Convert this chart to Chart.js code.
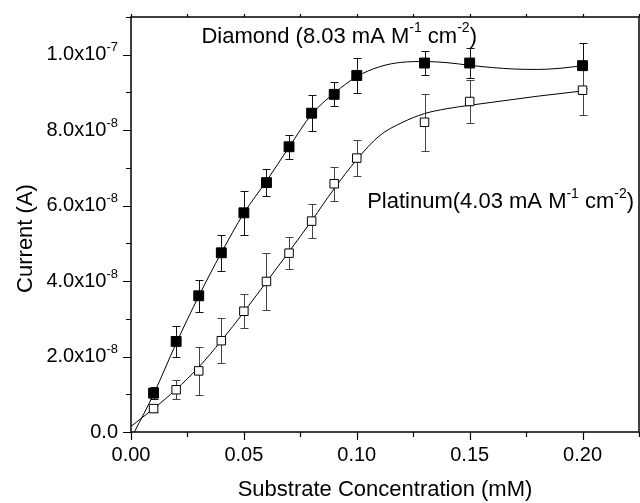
<!DOCTYPE html>
<html>
<head>
<meta charset="utf-8">
<script src="https://cdn.jsdelivr.net/npm/chart.js@4.4.1/dist/chart.umd.min.js"></script>
<style>
  html, body { margin: 0; padding: 0; background: #fff; overflow: hidden; }
  #wrap { width: 640px; height: 503px; }
</style>
</head>
<body>
<div id="wrap"><canvas id="c"></canvas></div>
<script>
// Measured amperometric response (A) vs substrate concentration (mM)
const concentration   = [0.01, 0.02, 0.03, 0.04, 0.05, 0.06, 0.07, 0.08, 0.09, 0.10, 0.13, 0.15, 0.20];
const diamondCurrent  = [1.03e-8, 2.40e-8, 3.61e-8, 4.75e-8, 5.81e-8, 6.61e-8, 7.56e-8, 8.45e-8, 8.95e-8, 9.45e-8, 9.78e-8, 9.78e-8, 9.71e-8];
const diamondError    = [0.15e-8, 0.40e-8, 0.43e-8, 0.48e-8, 0.58e-8, 0.35e-8, 0.32e-8, 0.47e-8, 0.32e-8, 0.47e-8, 0.33e-8, 0.40e-8, 0.60e-8];
const platinumCurrent = [0.62e-8, 1.12e-8, 1.62e-8, 2.42e-8, 3.20e-8, 3.99e-8, 4.74e-8, 5.59e-8, 6.58e-8, 7.26e-8, 8.21e-8, 8.76e-8, 9.06e-8];
const platinumError   = [0.10e-8, 0.25e-8, 0.63e-8, 0.60e-8, 0.45e-8, 0.75e-8, 0.43e-8, 0.46e-8, 0.45e-8, 0.47e-8, 0.76e-8, 0.58e-8, 0.66e-8];

// Smoothed fit curves
const diamondFitX  = [0.0015, 0.01, 0.02, 0.03, 0.04, 0.05, 0.06, 0.07, 0.08, 0.09, 0.10, 0.11, 0.12, 0.13, 0.14, 0.15, 0.16, 0.17, 0.18, 0.19, 0.20];
const diamondFitY  = [0, 1.0e-8, 2.35e-8, 3.6e-8, 4.75e-8, 5.8e-8, 6.65e-8, 7.55e-8, 8.42e-8, 8.98e-8, 9.42e-8, 9.68e-8, 9.8e-8, 9.82e-8, 9.79e-8, 9.72e-8, 9.66e-8, 9.62e-8, 9.61e-8, 9.64e-8, 9.71e-8];
const platinumFitX = [0, 0.01, 0.02, 0.03, 0.04, 0.05, 0.06, 0.07, 0.08, 0.09, 0.10, 0.11, 0.12, 0.13, 0.14, 0.15, 0.16, 0.17, 0.18, 0.19, 0.20];
const platinumFitY = [0.15e-8, 0.62e-8, 1.13e-8, 1.72e-8, 2.42e-8, 3.18e-8, 3.98e-8, 4.78e-8, 5.6e-8, 6.45e-8, 7.22e-8, 7.85e-8, 8.2e-8, 8.44e-8, 8.57e-8, 8.66e-8, 8.74e-8, 8.82e-8, 8.9e-8, 8.97e-8, 9.04e-8];

// Axis labelling
const xTickValues = [0, 0.05, 0.10, 0.15, 0.20];
const xTickLabels = ['0.00', '0.05', '0.10', '0.15', '0.20'];
const yTickValues = [0, 2e-8, 4e-8, 6e-8, 8e-8, 1e-7];
const yTickBase   = ['0.0', '2.0x10', '4.0x10', '6.0x10', '8.0x10', '1.0x10'];
const yTickExp    = ['', '-8', '-8', '-8', '-8', '-7'];

const FONT = '"Liberation Sans", Arial, Helvetica, sans-serif';

const toPoints = (xs, ys) => xs.map((x, i) => ({ x: x, y: ys[i] }));

// Text runs where some pieces are raised exponents
function richWidth(ctx, parts, size, supSize) {
  let w = 0;
  parts.forEach(p => {
    ctx.font = (p.sup ? supSize : size) + 'px ' + FONT;
    w += ctx.measureText(p.t).width;
  });
  return w;
}
function drawRich(ctx, parts, x, y, size, supSize, rise) {
  ctx.textBaseline = 'middle';
  ctx.textAlign = 'left';
  let cx = x;
  parts.forEach(p => {
    ctx.font = (p.sup ? supSize : size) + 'px ' + FONT;
    ctx.fillText(p.t, cx, p.sup ? y - rise : y);
    cx += ctx.measureText(p.t).width;
  });
}

const errorBars = {
  id: 'errorBars',
  beforeDatasetsDraw(chart) {
    const { ctx, scales: { x, y } } = chart;
    const series = [
      { ys: diamondCurrent, es: diamondError, color: '#111' },
      { ys: platinumCurrent, es: platinumError, color: '#444' }
    ];
    ctx.save();
    ctx.lineWidth = 1;
    series.forEach(s => {
      ctx.strokeStyle = s.color;
      concentration.forEach((c, i) => {
        const px = Math.round(x.getPixelForValue(c)) + 0.5;
        const top = Math.round(y.getPixelForValue(s.ys[i] + s.es[i])) + 0.5;
        const bot = Math.round(y.getPixelForValue(s.ys[i] - s.es[i])) + 0.5;
        ctx.beginPath();
        ctx.moveTo(px, top); ctx.lineTo(px, bot);
        ctx.moveTo(px - 4, top); ctx.lineTo(px + 4, top);
        ctx.moveTo(px - 4, bot); ctx.lineTo(px + 4, bot);
        ctx.stroke();
      });
    });
    ctx.restore();
  }
};

const frameAndLabels = {
  id: 'frameAndLabels',
  afterDraw(chart) {
    const { ctx, chartArea: a, scales: { x, y } } = chart;
    ctx.save();
    ctx.strokeStyle = '#000';
    ctx.fillStyle = '#000';

    // frame
    ctx.lineWidth = 1.5;
    ctx.strokeRect(a.left, a.top, a.right - a.left, a.bottom - a.top);

    // tick marks
    ctx.lineWidth = 1.2;
    ctx.beginPath();
    x.ticks.forEach(t => {
      const px = Math.round(x.getPixelForValue(t.value)) + 0.5;
      const major = xTickValues.some(m => Math.abs(m - t.value) < 1e-6);
      ctx.moveTo(px, a.bottom); ctx.lineTo(px, a.bottom + (major ? 8 : 5));
      ctx.moveTo(px, a.top); ctx.lineTo(px, a.top - 3);
    });
    y.ticks.forEach(t => {
      const py = Math.round(y.getPixelForValue(t.value)) + 0.5;
      const major = yTickValues.some(m => Math.abs(m - t.value) < 1e-12);
      ctx.moveTo(a.left, py); ctx.lineTo(a.left - (major ? 8 : 5), py);
    });
    ctx.stroke();

    // x tick labels
    ctx.font = '20px ' + FONT;
    ctx.textAlign = 'center';
    ctx.textBaseline = 'middle';
    xTickValues.forEach((v, i) => {
      ctx.fillText(xTickLabels[i], x.getPixelForValue(v), a.bottom + 23);
    });

    // y tick labels with exponent
    yTickValues.forEach((v, i) => {
      const parts = [{ t: yTickBase[i] }];
      if (yTickExp[i]) parts.push({ t: yTickExp[i], sup: true });
      const w = richWidth(ctx, parts, 20, 13);
      drawRich(ctx, parts, a.left - 13 - w, y.getPixelForValue(v), 20, 13, 7);
    });

    // axis titles
    ctx.font = '22px ' + FONT;
    ctx.textAlign = 'center';
    ctx.textBaseline = 'middle';
    ctx.fillText('Substrate Concentration (mM)', (a.left + a.right) / 2, a.bottom + 58);
    ctx.save();
    ctx.translate(26, (a.top + a.bottom) / 2 + 14);
    ctx.rotate(-Math.PI / 2);
    ctx.fillText('Current (A)', 0, 0);
    ctx.restore();

    // series annotations
    drawRich(ctx, [
      { t: 'Diamond (8.03 mA M' }, { t: '-1', sup: true },
      { t: ' cm' }, { t: '-2', sup: true }, { t: ')' }
    ], x.getPixelForValue(0.0312), y.getPixelForValue(10.48e-8), 22, 14, 8);
    drawRich(ctx, [
      { t: 'Platinum(4.03 mA M' }, { t: '-1', sup: true },
      { t: ' cm' }, { t: '-2', sup: true }, { t: ')' }
    ], x.getPixelForValue(0.1046), y.getPixelForValue(6.09e-8), 22, 14, 8);

    ctx.restore();
  }
};

new Chart(document.getElementById('c'), {
  type: 'scatter',
  data: {
    datasets: [
      {
        label: 'Diamond fit',
        data: toPoints(diamondFitX, diamondFitY),
        showLine: true, borderColor: '#000', borderWidth: 1,
        pointRadius: 0, cubicInterpolationMode: 'monotone', order: 3
      },
      {
        label: 'Platinum fit',
        data: toPoints(platinumFitX, platinumFitY),
        showLine: true, borderColor: '#000', borderWidth: 1,
        pointRadius: 0, cubicInterpolationMode: 'monotone', order: 4
      },
      {
        label: 'Diamond',
        data: toPoints(concentration, diamondCurrent),
        pointStyle: 'rect', pointRadius: 7, pointBorderWidth: 1,
        backgroundColor: '#000', borderColor: '#000', order: 1
      },
      {
        label: 'Platinum',
        data: toPoints(concentration, platinumCurrent),
        pointStyle: 'rect', pointRadius: 6, pointBorderWidth: 1,
        backgroundColor: '#fff', borderColor: '#000', order: 2
      }
    ]
  },
  options: {
    responsive: true,
    maintainAspectRatio: false,
    animation: false,
    layout: { autoPadding: false, padding: { top: 17, right: 1, left: 0, bottom: 0 } },
    plugins: { legend: { display: false }, tooltip: { enabled: false } },
    scales: {
      x: {
        type: 'linear', min: 0, max: 0.225,
        ticks: { display: false, stepSize: 0.025 },
        grid: { display: false }, border: { display: false },
        afterFit: s => { s.height = 71; }
      },
      y: {
        type: 'linear', min: 0, max: 1.1e-7,
        ticks: { display: false, stepSize: 1e-8 },
        grid: { display: false }, border: { display: false },
        afterFit: s => { s.width = 131; }
      }
    }
  },
  plugins: [errorBars, frameAndLabels]
});
</script>
</body>
</html>
